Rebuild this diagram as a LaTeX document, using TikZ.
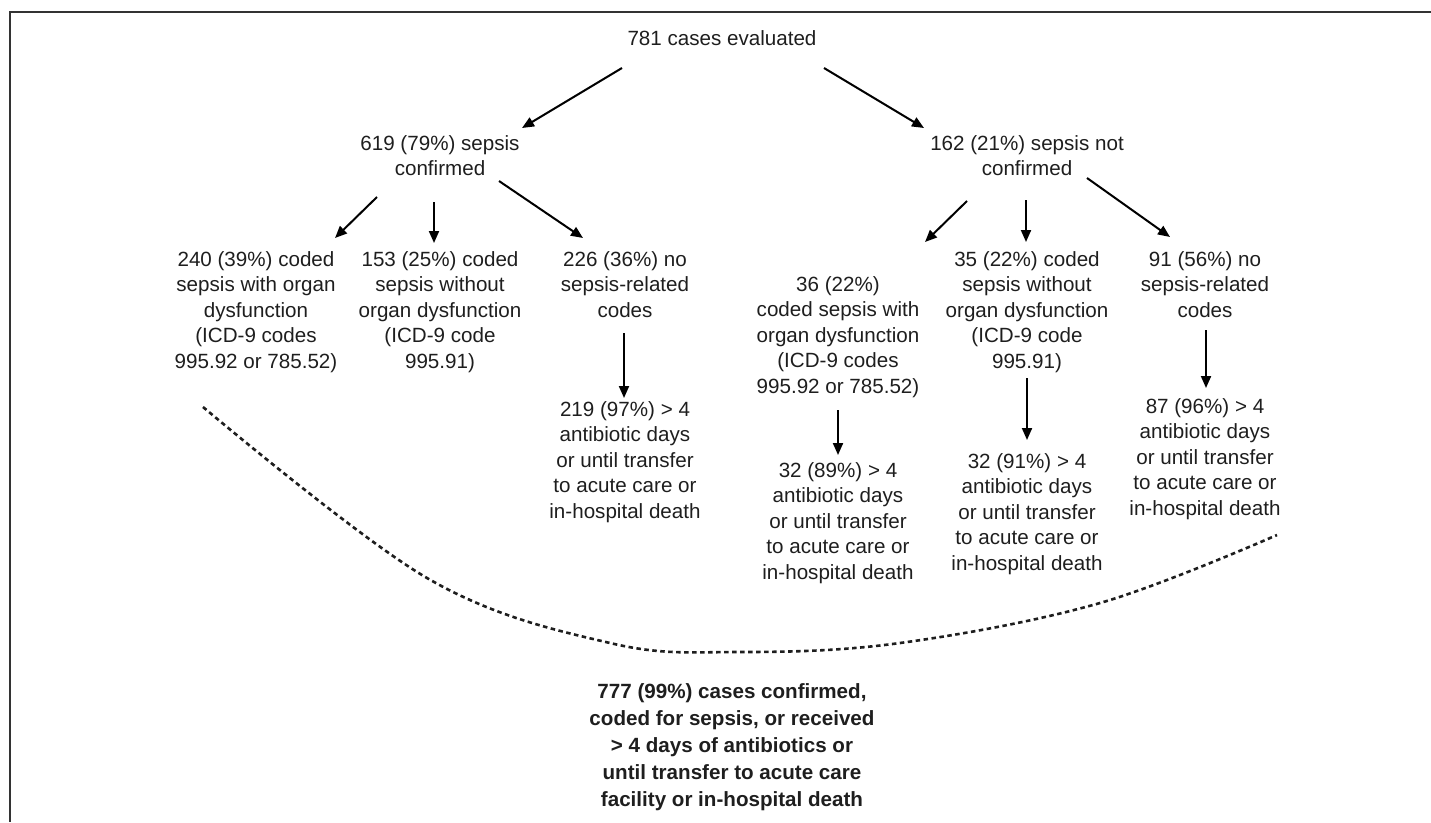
\documentclass[tikz,border=0pt]{standalone}
\usepackage{fontspec}
\setmainfont{Liberation Sans}
\usetikzlibrary{arrows.meta,calc}
\definecolor{textcol}{HTML}{1E1E1E}
\definecolor{framecol}{HTML}{333333}
\begin{document}
\begin{tikzpicture}[x=1pt,y=-1pt,
  txt/.style={anchor=base, align=center, inner sep=0pt, text=textcol, font=\fontsize{20.6}{25.5}\selectfont},
  boldtxt/.style={anchor=base, align=center, inner sep=0pt, text=textcol, font=\fontsize{20.6}{27}\selectfont\bfseries},
  arr/.style={line width=2pt, draw=black, -{Triangle[length=12pt,width=10pt]}},
  dotted curve/.style={line width=2.6pt, draw=textcol, dash pattern=on 4.5pt off 3.5pt}
]
\useasboundingbox (0,0) rectangle (1431,822);
\draw[framecol, line width=2pt] (1431,11.5) -- (10,11.5) -- (10,822);

% nodes placed at the baseline of their last line
\node[txt] (top) at (722,45) {781 cases evaluated};
\node[txt] (conf) at (440,175.5) {619 (79\%) sepsis\\confirmed};
\node[txt] (nconf) at (1027,175.5) {162 (21\%) sepsis not\\confirmed};

\node[txt] (a) at (256,368) {240 (39\%) coded\\sepsis with organ\\dysfunction\\(ICD-9 codes\\995.92 or 785.52)};
\node[txt] (b) at (440,368) {153 (25\%) coded\\sepsis without\\organ dysfunction\\(ICD-9 code\\995.91)};
\node[txt] (c) at (625,317) {226 (36\%) no\\sepsis-related\\codes};
\node[txt] (d) at (838,393) {36 (22\%)\\coded sepsis with\\organ dysfunction\\(ICD-9 codes\\995.92 or 785.52)};
\node[txt] (e) at (1027,368) {35 (22\%) coded\\sepsis without\\organ dysfunction\\(ICD-9 code\\995.91)};
\node[txt] (f) at (1205,317) {91 (56\%) no\\sepsis-related\\codes};

\node[txt] (c2) at (625,518) {219 (97\%) > 4\\antibiotic days\\or until transfer\\to acute care or\\in-hospital death};
\node[txt] (d2) at (838,579) {32 (89\%) > 4\\antibiotic days\\or until transfer\\to acute care or\\in-hospital death};
\node[txt] (e2) at (1027,570) {32 (91\%) > 4\\antibiotic days\\or until transfer\\to acute care or\\in-hospital death};
\node[txt] (f2) at (1205,515) {87 (96\%) > 4\\antibiotic days\\or until transfer\\to acute care or\\in-hospital death};

\node[boldtxt] (sum) at (732,806) {777 (99\%) cases confirmed,\\coded for sepsis, or received\\> 4 days of antibiotics or\\until transfer to acute care\\facility or in-hospital death};

\draw[arr] ([shift={(-100,23)}]top.base) -- ([shift={(82,-47.5)}]conf.base);
\draw[arr] ([shift={(102,23)}]top.base) -- ([shift={(-103,-47.5)}]nconf.base);

\draw[arr] ([shift={(-63,21.5)}]conf.base) -- ([shift={(79,-130)}]a.base);
\draw[arr] ([shift={(-6,26.5)}]conf.base) -- ([shift={(-6,-125)}]b.base);
\draw[arr] ([shift={(59,5.5)}]conf.base) -- ([shift={(-42,-79)}]c.base);

\draw[arr] ([shift={(-60,25.5)}]nconf.base) -- ([shift={(87,-151)}]d.base);
\draw[arr] ([shift={(-1,24.5)}]nconf.base) -- ([shift={(-1,-126)}]e.base);
\draw[arr] ([shift={(60,2.5)}]nconf.base) -- ([shift={(-35,-80)}]f.base);

\draw[arr] ([shift={(-1,16)}]c.base) -- ([shift={(-1,-120)}]c2.base);
\draw[arr] ([shift={(0,17)}]d.base) -- ([shift={(0,-124)}]d2.base);
\draw[arr] ([shift={(0,10)}]e.base) -- ([shift={(0,-130)}]e2.base);
\draw[arr] ([shift={(1,13)}]f.base) -- ([shift={(1,-127)}]f2.base);

\draw[dotted curve] plot[smooth, tension=0.6] coordinates {(203,407) (427,578) (610,643) (740,652) (900,643) (1100,603) (1277,535)};
\end{tikzpicture}
\end{document}
